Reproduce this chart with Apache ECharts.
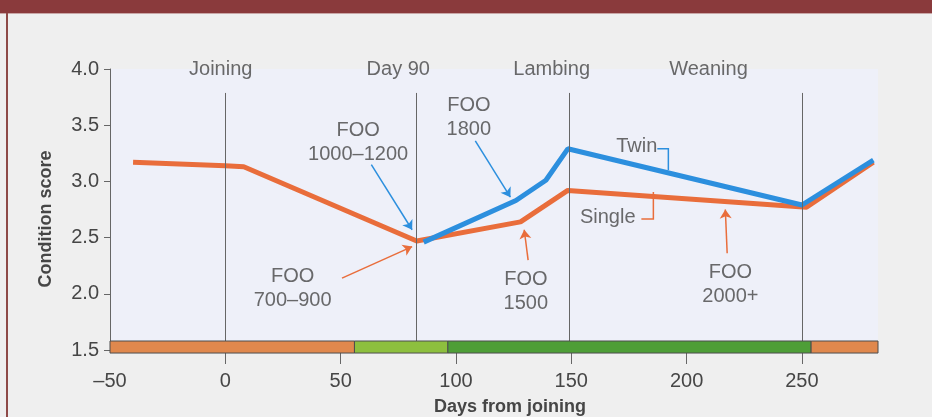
<!DOCTYPE html>
<html>
<head>
<meta charset="utf-8">
<script src="https://cdn.jsdelivr.net/npm/echarts@6/dist/echarts.min.js"></script>
<style>
  html, body { margin: 0; padding: 0; background: #eeeeee; }
  #conditionChart { width: 932px; height: 417px; }
</style>
</head>
<body>
<div id="conditionChart"></div>
<script>
// condition score of ewes through the year, single vs twin bearing
const singleDays = [-40, 0, 8, 83, 128, 148.5, 252, 281]
const singleScore = [3.17, 3.14, 3.13, 2.47, 2.64, 2.92, 2.77, 3.17]
const twinDays = [86, 126, 139, 148.5, 250, 281]
const twinScore = [2.46, 2.83, 3.01, 3.29, 2.79, 3.19]

// stage markers along the top
const stageNames = ['Joining', 'Day 90', 'Lambing', 'Weaning']
const stageLineDays = [0, 83, 149, 250]
const stageLabelDays = [-2, 75, 141.5, 209.5]

// feed on offer notes: [day, score] of text centre
const fooTexts = ['FOO\n1000–1200', 'FOO\n1800', 'FOO\n700–900', 'FOO\n1500', 'FOO\n2000+']
const fooTextPos = [[57.6, 3.35], [105.6, 3.57], [29.2, 2.05], [130.3, 2.02], [219, 2.08]]
// arrows: [fromDay, fromScore, toDay, toScore]
const fooArrows = [[63.3, 3.15, 81, 2.57], [108.4, 3.36, 123.6, 2.86], [50.6, 2.14, 81, 2.42], [131.3, 2.30, 129.6, 2.57], [217.6, 2.36, 216.8, 2.75]]
const fooArrowKind = ['twin', 'twin', 'single', 'single', 'single']

// series name tags
const tagNames = ['Twin', 'Single']
const tagPos = [[178.4, 3.31], [165.8, 2.68]]
const tagBrackets = [[[187.3, 3.29], [192.1, 3.29], [192.1, 3.10]], [[180.4, 2.665], [185.6, 2.665], [185.6, 2.905]]]

// pasture phase strip along the x axis
const phaseBounds = [-50, 56, 96.5, 254, 283]
const phaseKind = ['dry', 'growing', 'lush', 'dry']

const xTicks = [-50, 0, 50, 100, 150, 200, 250]

const ORANGE = '#e96d3b'
const BLUE = '#2c8fde'
const TEXT = '#464646'
const FONT = '"Liberation Sans", Arial, sans-serif'
const phaseColors = { dry: '#e0884d', growing: '#8dbf3e', lush: '#4e9e37' }

const chart = echarts.init(document.getElementById('conditionChart'))

const zip = (xs, ys) => xs.map((x, i) => [x, ys[i]])

const phaseData = phaseKind.map((k, i) => [phaseBounds[i], phaseBounds[i + 1], i])

chart.setOption({
  backgroundColor: '#efefef',
  animation: false,
  textStyle: { fontFamily: FONT },
  graphic: [
    { type: 'rect', shape: { x: 0, y: 0, width: 932, height: 13 }, style: { fill: '#8a3a3c' } },
    { type: 'rect', shape: { x: 0, y: 13, width: 932, height: 1 }, style: { fill: '#c9a7a7' } },
    { type: 'rect', shape: { x: 6, y: 13, width: 2, height: 404 }, style: { fill: '#8e4a48' } }
  ],
  grid: {
    left: 110, right: 54, top: 69, bottom: 67,
    outerBoundsMode: 'none', containLabel: false,
    show: true, backgroundColor: '#eef0f9', borderWidth: 0
  },
  xAxis: {
    type: 'value', min: -50, max: 283,
    axisLine: { show: false },
    splitLine: { show: false },
    axisTick: { show: true, customValues: xTicks.slice(1), length: 14, lineStyle: { color: '#666' } },
    axisLabel: {
      customValues: xTicks, margin: 21, fontSize: 20, color: TEXT, fontFamily: FONT,
      formatter: v => String(v).replace('-', '–')
    },
    name: 'Days from joining', nameLocation: 'middle', nameGap: 48,
    nameTextStyle: { fontSize: 18, fontWeight: 'bold', color: TEXT, fontFamily: FONT, padding: [0, 0, 0, 32] }
  },
  yAxis: {
    type: 'value', min: 1.5, max: 4, interval: 0.5,
    axisLine: { show: true, onZero: false, lineStyle: { color: '#666', width: 1 } },
    axisTick: { show: true, length: 6, lineStyle: { color: '#666' } },
    splitLine: { show: false },
    axisLabel: { fontSize: 20, color: TEXT, margin: 11, fontFamily: FONT, formatter: v => v.toFixed(1) },
    name: 'Condition score', nameLocation: 'middle', nameGap: 55,
    nameTextStyle: { fontSize: 18, fontWeight: 'bold', color: TEXT, fontFamily: FONT, padding: [0, 19, 0, 0] }
  },
  series: [
    {
      name: 'stages', type: 'line', data: [], silent: true,
      markLine: {
        silent: true, symbol: ['none', 'none'], label: { show: false },
        lineStyle: { color: '#666', width: 1, type: 'solid' },
        data: stageLineDays.map(d => [{ coord: [d, 3.787] }, { coord: [d, 1.5] }])
      }
    },
    {
      name: 'Single', type: 'line', data: zip(singleDays, singleScore),
      showSymbol: false, lineStyle: { color: ORANGE, width: 5 }, z: 3
    },
    {
      name: 'Twin', type: 'line', data: zip(twinDays, twinScore),
      showSymbol: false, lineStyle: { color: BLUE, width: 5 }, z: 4
    },
    {
      name: 'phases', type: 'custom', z: 5, clip: false, silent: true,
      data: phaseData,
      renderItem: (params, api) => {
        const p1 = api.coord([api.value(0), 1.58])
        const p2 = api.coord([api.value(1), 1.473])
        return {
          type: 'rect',
          shape: { x: p1[0], y: p1[1], width: p2[0] - p1[0], height: p2[1] - p1[1] },
          style: { fill: phaseColors[phaseKind[api.value(2)]], stroke: '#4d4d4d', lineWidth: 1 }
        }
      }
    },
    {
      name: 'arrows', type: 'lines', coordinateSystem: 'cartesian2d', z: 6, silent: true,
      symbol: ['none', 'arrow'], symbolSize: 9,
      data: fooArrows.map((a, i) => ({
        coords: [[a[0], a[1]], [a[2], a[3]]],
        lineStyle: { color: fooArrowKind[i] === 'twin' ? BLUE : ORANGE, width: 1.5, opacity: 1 }
      }))
    },
    {
      name: 'brackets', type: 'lines', coordinateSystem: 'cartesian2d', polyline: true, z: 6, silent: true,
      data: tagBrackets.map((b, i) => ({
        coords: b,
        lineStyle: { color: i === 0 ? BLUE : ORANGE, width: 1.5, opacity: 1 }
      }))
    },
    {
      name: 'texts', type: 'scatter', symbolSize: 0, z: 7, silent: true,
      data: [
        ...stageNames.map((n, i) => ({ name: n, value: [stageLabelDays[i], 4.0] })),
        ...fooTexts.map((n, i) => ({ name: n, value: fooTextPos[i] })),
        ...tagNames.map((n, i) => ({ name: n, value: tagPos[i] }))
      ],
      label: {
        show: true, position: 'inside', formatter: p => p.name,
        fontSize: 20, lineHeight: 24, color: TEXT, fontFamily: FONT
      }
    }
  ]
})
</script>
</body>
</html>
